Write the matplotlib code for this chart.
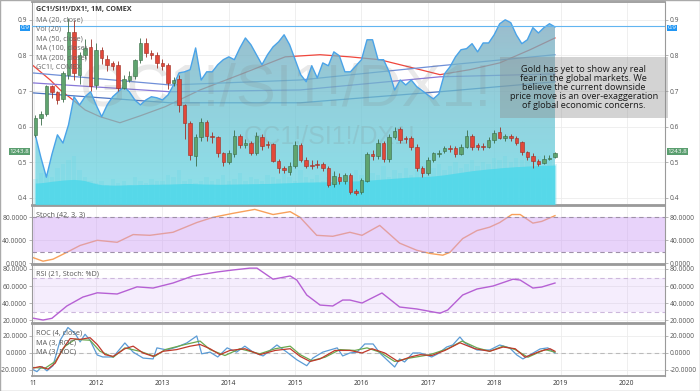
import numpy as np
import matplotlib
matplotlib.use("Agg")
import matplotlib.pyplot as plt
from matplotlib.patches import Rectangle, Polygon
from matplotlib.transforms import blended_transform_factory

plt.rcParams['font.family'] = ['Open Sans', 'DejaVu Sans']

# monthly candles, month 0 = Feb 2011 ... month 94 = Dec 2018
opens = [.577, .625, .636, .715, .696, .678, .746, .867, .746, .802, .825, .717,
         .816, .790, .779, .774, .709, .731, .743, .788, .836, .807, .802, .780,
         .774, .723, .734, .661, .611, .518, .571, .613, .574, .571, .526, .501,
         .524, .574, .549, .554, .526, .571, .552, .552, .504, .484, .473, .490,
         .549, .507, .493, .496, .496, .484, .439, .459, .448, .465, .420, .417,
         .448, .524, .518, .554, .510, .571, .594, .569, .569, .543, .484, .470,
         .507, .524, .532, .540, .540, .524, .543, .574, .549, .546, .543, .563,
         .585, .569, .574, .569, .557, .529, .518, .504, .498, .510, .515]
closes = [.625, .636, .715, .696, .675, .751, .867, .751, .802, .821, .713, .816,
          .793, .774, .771, .709, .734, .743, .788, .836, .807, .802, .779, .771,
          .723, .731, .661, .611, .521, .571, .613, .574, .571, .526, .501, .526,
          .574, .549, .554, .526, .574, .546, .549, .504, .484, .479, .490, .549,
          .507, .490, .490, .493, .484, .437, .462, .448, .465, .417, .414, .451,
          .524, .518, .554, .510, .571, .588, .563, .566, .543, .484, .470, .507,
          .526, .526, .540, .538, .524, .543, .574, .543, .543, .543, .563, .583,
          .569, .574, .569, .554, .529, .515, .504, .496, .510, .512, .526]
highs = [.632, .645, .718, .718, .700, .755, .905, .900, .810, .845, .845, .835,
         .825, .800, .785, .785, .745, .755, .790, .850, .850, .815, .810, .790,
         .780, .740, .745, .665, .615, .580, .625, .620, .585, .575, .530, .535,
         .590, .580, .565, .560, .585, .580, .560, .555, .510, .490, .500, .560,
         .555, .515, .505, .505, .500, .490, .475, .470, .470, .470, .425, .455,
         .530, .535, .565, .560, .580, .600, .600, .575, .575, .550, .490, .515,
         .530, .535, .545, .548, .545, .550, .590, .580, .555, .553, .570, .590,
         .600, .580, .580, .575, .560, .532, .525, .510, .520, .520, .530]
lows = [.570, .605, .630, .680, .665, .670, .735, .730, .720, .790, .700, .705,
        .775, .755, .760, .700, .705, .725, .735, .780, .795, .790, .765, .760,
        .705, .715, .640, .565, .505, .490, .560, .560, .555, .515, .490, .495,
        .515, .540, .540, .520, .520, .535, .540, .500, .470, .470, .465, .485,
        .500, .485, .480, .485, .475, .430, .430, .440, .440, .410, .408, .410,
        .445, .505, .510, .500, .500, .565, .555, .555, .535, .475, .460, .465,
        .500, .515, .525, .530, .515, .520, .540, .535, .535, .535, .540, .555,
        .565, .560, .560, .548, .520, .505, .485, .490, .495, .505, .512]

# GC1! comparison line (drawn on the price pane)
gc_line = [.577, .514, .458, .522, .577, .554, .605, .684, .661, .684, .698, .661,
           .628, .661, .684, .698, .712, .698, .675, .661, .675, .684, .681, .675,
           .689, .717, .751, .754, .760, .821, .731, .754, .754, .774, .788, .796,
           .788, .821, .849, .830, .802, .774, .802, .824, .838, .858, .830, .788,
           .746, .726, .771, .737, .779, .771, .810, .799, .754, .754, .771, .788,
           .844, .844, .788, .788, .754, .703, .731, .717, .731, .712, .701, .689,
           .678, .692, .748, .768, .796, .816, .819, .833, .810, .835, .835, .858,
           .889, .900, .892, .858, .833, .844, .878, .863, .878, .889, .880]

# volume (percent of pane height)
vol = [13, 16, 15, 14, 18, 20, 22, 24, 17, 14, 12, 11,
       12, 10, 13, 11, 12, 10, 14, 12, 11, 13, 12, 12,
       15, 14, 17, 12, 13, 11, 12, 14, 12, 13, 15, 12,
       13, 16, 12, 14, 13, 12, 15, 14, 13, 16, 14, 12,
       17, 14, 13, 15, 12, 14, 16, 13, 15, 14, 17, 15,
       18, 16, 15, 19, 14, 17, 16, 18, 15, 17, 19, 16,
       18, 20, 17, 19, 21, 18, 20, 22, 19, 21, 20, 23,
       22, 24, 21, 23, 22, 25, 21, 24, 22, 23, 20]
vol_ma = [10.8, 11.0, 11.3, 11.7, 12.0, 12.3, 12.5, 12.6, 12.4, 12.0, 11.2, 10.5,
          10.0, 9.9, 9.8, 9.8, 9.9, 10.0, 10.0, 10.1, 10.1, 10.2, 10.2, 10.3,
          10.3, 10.4, 10.5, 10.6, 10.6, 10.5, 10.4, 10.3, 10.3, 10.2, 10.2, 10.3,
          10.3, 10.4, 10.4, 10.5, 10.5, 10.6, 10.6, 10.7, 10.8, 10.9, 11.0, 11.1,
          11.2, 11.3, 11.3, 11.4, 11.4, 11.5, 11.5, 11.6, 11.7, 11.8, 11.9, 12.0,
          12.2, 12.4, 12.6, 12.8, 13.0, 13.2, 13.4, 13.6, 13.8, 13.9, 14.0, 14.1,
          14.3, 14.6, 14.9, 15.3, 15.7, 16.1, 16.5, 16.9, 17.2, 17.5, 17.8, 18.0,
          18.3, 18.5, 18.7, 18.9, 19.0, 19.2, 19.3, 19.4, 19.5, 19.6, 19.7]

# moving averages (month, value)
ma20_t = [-0.6, 2.7, 4.5, 6.8, 9.0, 11.7, 15.3, 18.9, 23.5, 29.8, 37.0, 45.2,
          51.5, 56.9, 62.3, 69.6, 73.2, 78.6, 84.0, 89.5, 94.0]
ma20_v = [.774, .731, .703, .675, .647, .628, .611, .630, .656, .703, .746, .796,
          .802, .796, .788, .760, .746, .760, .779, .816, .849]
ma_t = [-0.6, 24.4, 47.9, 73.2, 94.0]
ma50_v = [.751, .717, .731, .771, .802]
ma100_v = [.723, .698, .703, .740, .748]
ma200_v = [.695, .667, .667, .698, .726]

# Stoch (42, 3, 3)
stoch_t = [-0.6, 1.4, 3.2, 5.7, 8.1, 11.2, 14.8, 17.7, 20.7, 24.9, 29.2, 32.1,
           35.7, 39.7, 43.0, 46.1, 47.9, 50.9, 53.8, 56.9, 59.1, 62.3, 65.9, 69.0,
           71.4, 73.7, 75.0, 77.3, 79.9, 82.2, 84.0, 86.2, 87.7, 90.0, 91.6, 94.0]
stoch_v = [10.4, 3.5, 7, 19, 31, 40, 36.5, 50, 48.7, 54, 71, 80,
           87, 94, 85, 90, 80, 48.7, 47, 54, 48.7, 66, 35, 22.6,
           17, 14, 19, 43, 57, 63, 71, 85, 85, 70, 73, 83]

# RSI (21, Stoch: %D)
rsi_t = [-0.6, 1.4, 3.0, 5.7, 8.6, 11.2, 14.8, 18.4, 21.3, 24.9, 28.5, 32.9,
         35.7, 38.8, 40.1, 43.0, 46.1, 47.3, 49.1, 51.5, 53.8, 55.6, 56.9, 59.1,
         62.7, 65.9, 69.0, 73.2, 74.6, 77.3, 79.9, 82.8, 86.4, 87.7, 90.0, 91.6, 94.0]
rsi_v = [22.4, 20, 22, 36.5, 47, 52, 50.6, 59, 57.6, 63.5, 71.8, 76.5,
         78.8, 81, 81, 68, 71.8, 67, 49.4, 37.6, 36.5, 43.5, 43.5, 40,
         51.8, 35.3, 33, 28, 31.8, 49.4, 56.5, 60, 68, 67, 57.6, 58.8, 63.5]

# ROC (4, close) and its two MA (3)
roc_t = [-0.6, 0.3, 1.2, 2.1, 3.2, 4.5, 5.9, 7.2, 8.1, 9.0, 9.9, 11.2, 12.2, 14.1,
         16.2, 17.7, 19.5, 21.3, 22.0, 23.8, 25.6, 27.4, 29.2, 30.1, 31.6, 33.0,
         34.7, 36.4, 37.9, 39.4, 41.2, 43.7, 45.5, 47.3, 49.1, 50.2, 52.0, 54.6,
         55.6, 56.9, 58.2, 59.6, 61.1, 62.3, 63.6, 65.0, 65.9, 66.8, 68.3, 69.6,
         71.7, 72.8, 74.4, 75.5, 76.8, 77.7, 79.9, 82.2, 84.0, 85.8, 87.1, 88.2,
         89.8, 91.3, 92.7, 94.0]
roc_v = [-19, -22, -16, -21, -15, 15, 30, 23, 13, 22, 15, -2.4, -4.7, -4.7,
         11.8, 1, -6, -7, 6, 3.5, 7, 11.8, 20, -1, 1, -4.7,
         6, 1, 8, 1, -3.5, 9.4, 1, -8, -15, -6, 1, 6,
         -3.5, 0, 1, 10.6, 10.6, 0, -8, -16.5, -7, -10.6, 0, 0,
         -4.7, -1, 7, 9.4, 18.8, 11.8, 3.5, 3.5, 9.4, 6, -2.4, -7,
         -1, 4.7, 6, 0]
roc_ma1_t = [-0.6, 0.85, 2.3, 3.6, 5.0, 6.3, 8.1, 9.9, 11.2, 12.6, 14.1, 16.2,
             17.7, 19.5, 21.3, 23.1, 25.6, 28.0, 29.8, 31.6, 33.4, 35.2, 37.9,
             40.6, 43.4, 46.1, 47.9, 49.7, 51.5, 54.2, 56.9, 59.1, 60.9, 63.2,
             65.6, 67.7, 69.6, 71.7, 74.1, 76.8, 79.5, 82.2, 84.6, 86.8, 88.6,
             91.3, 93.1, 94.0]
roc_ma1_v = [-18, -16, -19, -12, 5, 17, 16, 18, 10, -2, -4, 5,
             8, 0, -4, 2, 4, 8, 10, 5, -2, 3, 5,
             -2, 3, 5, -4, -10, -7, 3, 3, 0, 5, 0,
             -10, -5, -2, -3, 3, 12, 5, 2, 7, 5, -5,
             2, 5, 2]
roc_ma2_t = [-0.6, 1.75, 3.6, 5.4, 7.2, 9.9, 11.7, 14.1, 16.2, 18.9, 21.6, 23.5,
             27.1, 29.8, 31.6, 34.3, 37.0, 40.6, 43.4, 46.1, 47.9, 50.0, 52.4,
             55.1, 57.8, 60.0, 62.3, 65.0, 67.7, 71.4, 74.6, 77.2, 79.9, 82.2,
             84.6, 86.8, 89.1, 92.2, 94.0]
roc_ma2_v = [-17, -18, -10, 8, 16, 15, 2, -5, 6, 2, -4, 4,
             10, 14, 4, -3, 5, -1, 5, 8, -2, -9, -5,
             4, 3, 6, 1, -10, -6, -2, 5, 14, 6, 2,
             8, 4, -5, 4, 1]

years = ['11', '2012', '2013', '2014', '2015', '2016', '2017', '2018', '2019', '2020']
year_pos = [-0.3, 11, 23, 35, 47, 59, 71, 83, 95, 107]

note = ("Gold has yet to show any real\nfear in the global markets. We\n"
        "believe the current downside\nprice move is an over-exaggeration\n"
        "of global economic concerns.")

months = np.arange(len(opens))
XMIN, XMAX = -0.6, 113.9
YLO, YHI = 0.380, 0.950
tick_c = '#555555'
grid_c = '#ececec'

fig = plt.figure(figsize=(7, 3.91), dpi=100)


def pane(top_px, bot_px):
    return [32 / 700, 1 - bot_px / 391, 633 / 700, (bot_px - top_px) / 391]


ax = fig.add_axes(pane(2, 205))
ax_st = fig.add_axes(pane(206, 264))
ax_rsi = fig.add_axes(pane(265, 323))
ax_roc = fig.add_axes(pane(324, 376))

for a in (ax, ax_st, ax_rsi, ax_roc):
    a.set_xlim(XMIN, XMAX)
    a.set_xticks(year_pos)
    a.grid(True, color=grid_c, lw=0.6, zorder=0)
    a.set_axisbelow(True)
    a.tick_params(axis='y', left=True, right=True, labelleft=True, labelright=True,
                  length=2, width=0.5, color='#999999', labelsize=4.8,
                  labelcolor=tick_c, pad=1.5)
    a.tick_params(axis='x', length=0, labelbottom=False)
    for s in a.spines.values():
        s.set_color('#9a9a9a')
        s.set_linewidth(0.8)
    a.spines['top'].set_linewidth(1.3)
    a.spines['bottom'].set_linewidth(1.3)

# ---------------- main price pane ----------------
ax.set_ylim(YLO, YHI)
ax.set_yticks([0.4, 0.5, 0.6, 0.7, 0.8, 0.9])
ax.yaxis.set_major_formatter(plt.FormatStrFormatter('%.1f'))

# moving averages (under the area fill)
ax.plot(ma20_t, ma20_v, color='#f0463c', lw=0.9, zorder=1.5)
ax.plot(ma_t, ma50_v, color='#6f8fd8', lw=0.9, zorder=1.5)
ax.plot(ma_t, ma100_v, color='#8878d8', lw=0.9, zorder=1.5)
ax.plot(ma_t, ma200_v, color='#4f76c4', lw=0.9, zorder=1.5)

# gradient area under the GC1! line
verts = [(months[0], YLO)] + list(zip(months, gc_line)) + [(months[-1], YLO)]
clip = Polygon(verts, closed=True, facecolor='none', edgecolor='none')
ax.add_patch(clip)
top_c = np.array([0.49, 0.63, 0.72])
mid_c = np.array([0.43, 0.76, 0.82])
bot_c = np.array([0.40, 0.85, 0.90])
f = np.linspace(0, 1, 256)[:, None]
grad = np.where(f < 0.5, top_c + (mid_c - top_c) * (f / 0.5),
                mid_c + (bot_c - mid_c) * ((f - 0.5) / 0.5))
img = ax.imshow(grad[:, None, :], extent=[months[0], months[-1], YLO, YHI],
                aspect='auto', origin='upper', alpha=0.75, zorder=2)
img.set_clip_path(clip)

# watermark
ax.text(0.40, 0.565, 'GC1!/SI1!/DX1!', transform=ax.transAxes, fontsize=43,
        family='Liberation Sans', color='#808080', alpha=0.17, ha='center',
        va='center', zorder=2.5)
ax.text(0.47, 0.335, 'GC1!/SI1!/DX1!', transform=ax.transAxes, fontsize=18,
        family='Liberation Sans', color='#808080', alpha=0.17, ha='center',
        va='center', zorder=2.5)

# volume and its moving average (heights as fraction of the pane)
vt = blended_transform_factory(ax.transData, ax.transAxes)
ax.bar(months, np.array(vol) / 100, width=0.8, color='#5fd6e6', alpha=0.2,
       transform=vt, zorder=2.6)
ax.fill_between(months, 0, np.array(vol_ma) / 100, transform=vt, color='#4fd8ea',
                alpha=0.85, lw=0, zorder=2.7)

ax.plot(months, gc_line, color='#4aa3e8', lw=1.0, zorder=3)
ax.axhline(0.882, color='#62b5f0', lw=0.8, zorder=3)

# candles
for i in months:
    up = closes[i] >= opens[i]
    fc = '#5fa46f' if up else '#e2483a'
    ec = '#3a6b47' if up else '#9c2f24'
    ax.vlines(i, lows[i], highs[i], color=ec, lw=0.6, zorder=4)
    lo = min(opens[i], closes[i])
    h = max(abs(closes[i] - opens[i]), 0.0015)
    ax.add_patch(Rectangle((i - 0.32, lo), 0.64, h, facecolor=fc, edgecolor=ec,
                           lw=0.4, zorder=5))

# legend
ax.text(0.006, 1 - 8 / 203, 'GC1!/SI1!/DX1!, 1M, COMEX', transform=ax.transAxes,
        fontsize=5.2, fontweight='bold', color='#3a3a3a', va='center', zorder=8)
leg = ['MA (20, close)', 'Vol (20)', 'MA (50, close)', 'MA (100, close)',
       'MA (200, close)', 'GC1!, COMEX']
for k, s in enumerate(leg):
    ax.text(0.006, 1 - (18 + 9.4 * k) / 203, s, transform=ax.transAxes,
            fontsize=5.2, color='#666666', va='center', zorder=8)

# note box
ax.add_patch(Rectangle((84.0, 0.625), 30.4, 0.171, facecolor=(0.55, 0.55, 0.55),
                       alpha=0.38, edgecolor='none', zorder=6, clip_on=False))
ax.text(99.2, 0.710, note, ha='center', va='center', fontsize=6.6,
        linespacing=1.0, color='#1a1a1a', zorder=7)

# price tags on both scales
tt = blended_transform_factory(ax.transAxes, ax.transData)
for xx, ha in ((-0.004, 'right'), (1.004, 'left')):
    ax.text(xx, 0.878, '0.9', transform=tt, ha=ha, va='center', fontsize=4.5,
            color='white', clip_on=False, zorder=9,
            bbox=dict(boxstyle='square,pad=0.08', fc='#2196f3', ec='none'))
    ax.text(xx, 0.529, '1243.8', transform=tt, ha=ha, va='center', fontsize=4.5,
            color='white', clip_on=False, zorder=9,
            bbox=dict(boxstyle='square,pad=0.15', fc='#5a9e6f', ec='none'))

# ---------------- Stoch ----------------
ax_st.set_ylim(-1.4, 99.9)
ax_st.set_yticks([0, 40, 80])
ax_st.yaxis.set_major_formatter(plt.FormatStrFormatter('%.4f'))
ax_st.plot(stoch_t, stoch_v, color='#f7a05b', lw=1.0, zorder=1.5)
ax_st.axhspan(20, 80, color=(0.80, 0.62, 0.96), alpha=0.45, lw=0, zorder=2)
for lvl in (20, 80):
    ax_st.axhline(lvl, color='#9e90a8', lw=0.8, ls=(0, (4, 3)), zorder=2.5)
ax_st.text(0.006, 0.845, 'Stoch (42, 3, 3)', transform=ax_st.transAxes,
           fontsize=5.2, color='#555555', va='center', zorder=8)

# ---------------- RSI ----------------
ax_rsi.set_ylim(16.5, 84.7)
ax_rsi.set_yticks([20, 40, 60, 80])
ax_rsi.yaxis.set_major_formatter(plt.FormatStrFormatter('%.4f'))
ax_rsi.axhspan(30, 70, color=(0.80, 0.62, 0.96), alpha=0.18, lw=0, zorder=1)
for lvl in (30, 70):
    ax_rsi.axhline(lvl, color='#cdb8dc', lw=0.8, ls=(0, (4, 3)), zorder=1.2)
ax_rsi.plot(rsi_t, rsi_v, color='#b660d4', lw=1.0, zorder=2)
ax_rsi.text(0.006, 0.845, 'RSI (21, Stoch: %D)', transform=ax_rsi.transAxes,
            fontsize=5.2, color='#555555', va='center', zorder=8)

# ---------------- ROC ----------------
ax_roc.set_ylim(-27.1, 34.1)
ax_roc.set_yticks([-20, 0, 20])
ax_roc.yaxis.set_major_formatter(plt.FormatStrFormatter('%.4f'))
ax_roc.axhline(0, color='#bbbbbb', lw=0.8, ls=(0, (4, 3)), zorder=1)
ax_roc.plot(roc_t, roc_v, color='#5b9bd5', lw=0.9, zorder=2)
ax_roc.plot(roc_ma2_t, roc_ma2_v, color='#6aa84f', lw=0.9, zorder=2.1)
ax_roc.plot(roc_ma1_t, roc_ma1_v, color='#c0392b', lw=0.9, zorder=2.2)
for k, s in enumerate(['ROC (4, close)', 'MA (3, ROC)', 'MA (3, ROC)']):
    ax_roc.text(0.006, 1 - (9 + 9.5 * k) / 52, s, transform=ax_roc.transAxes,
                fontsize=5.2, color='#555555', va='center', zorder=8)
ax_roc.set_xticklabels(years)
ax_roc.tick_params(axis='x', labelbottom=True, labelsize=4.8, labelcolor='#333333',
                   pad=3)

fig.add_artist(Rectangle((0, 0), 1, 1, transform=fig.transFigure, fill=False,
                         edgecolor='#aaaaaa', lw=1.0))

fig.savefig('out.png', dpi=100, facecolor='white')
